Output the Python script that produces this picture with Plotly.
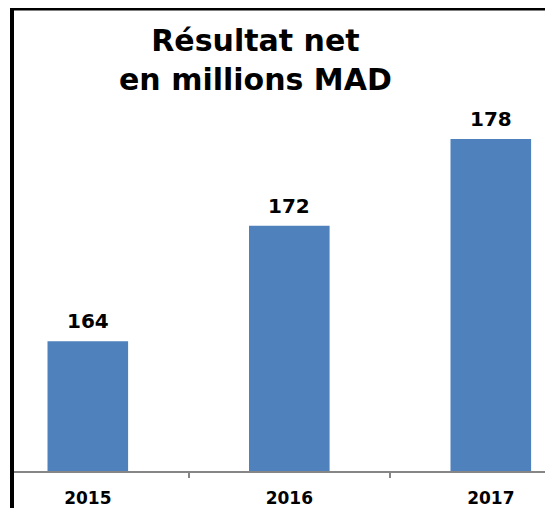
import plotly.graph_objects as go

years = ["2015", "2016", "2017"]
values = [164, 172, 178]
value_labels = ["164", "172", "178"]
title_lines = ["Résultat net", "en millions MAD"]

# page body adds an 8px margin on every side; keep the figure inside the window
OFF = 8
W, H = 553 - 2 * OFF, 516 - 2 * OFF
FONT = "DejaVu Sans"

# category layout measured in page pixels
CAT0_PX, CAT_STEP = 87.8, 201.5
AXIS_PX, PX_PER_UNIT, Y_BASE = 471, 14.43, 155
PLOT_LEFT_PX = 14


def xval(px):
    return (px - CAT0_PX) / CAT_STEP


fig = go.Figure()
fig.add_trace(go.Bar(
    x=years, y=values, width=0.4,
    marker=dict(color="#4F81BD", line=dict(width=0)),
    hoverinfo="skip",
))

for i, (v, lab) in enumerate(zip(values, value_labels)):
    fig.add_annotation(
        x=i, y=v, xref="x", yref="y", text="<b>%s</b>" % lab,
        showarrow=False, yanchor="bottom", yshift=6,
        font=dict(family=FONT, size=20, color="black"),
    )

fig.add_annotation(
    x=(255 - OFF) / W, y=1 - (60 - OFF) / H, xref="paper", yref="paper",
    text="<b>%s</b><br><b>%s</b>" % tuple(title_lines),
    showarrow=False, xanchor="center", yanchor="middle",
    font=dict(family=FONT, size=30, color="black"),
)

# frame: left and top edges only (the rest lies outside the picture)
fx = (12 - OFF) / W
fy = 1 - (8.5 - OFF) / H
fig.add_shape(type="line", xref="paper", yref="paper", x0=fx, x1=fx, y0=-0.05, y1=fy + 4 / H,
              line=dict(color="black", width=4), layer="above")
fig.add_shape(type="line", xref="paper", yref="paper", x0=fx - 2 / W, x1=1.0, y0=fy, y1=fy,
              line=dict(color="black", width=4), layer="above")

fig.update_layout(
    width=W, height=H,
    margin=dict(l=0, r=0, t=0, b=0),
    paper_bgcolor="white", plot_bgcolor="white",
    showlegend=False,
    xaxis=dict(
        type="category", domain=[(PLOT_LEFT_PX - OFF) / W, 1],
        range=[xval(PLOT_LEFT_PX), xval(OFF + W)],
        showline=True, linecolor="#868686", linewidth=2,
        ticks="outside", tickson="boundaries", ticklen=5, tickcolor="#868686", tickwidth=2,
        tickfont=dict(family=FONT, size=17, color="black"),
        ticklabelstandoff=11,
        showgrid=False, zeroline=False,
        tickprefix="<b>", ticksuffix="</b>",
    ),
    yaxis=dict(
        domain=[(H - (AXIS_PX - OFF)) / H, 1],
        range=[Y_BASE, Y_BASE + (AXIS_PX - OFF) / PX_PER_UNIT],
        visible=False, showgrid=False, zeroline=False,
    ),
)

fig.write_html("out.html")
